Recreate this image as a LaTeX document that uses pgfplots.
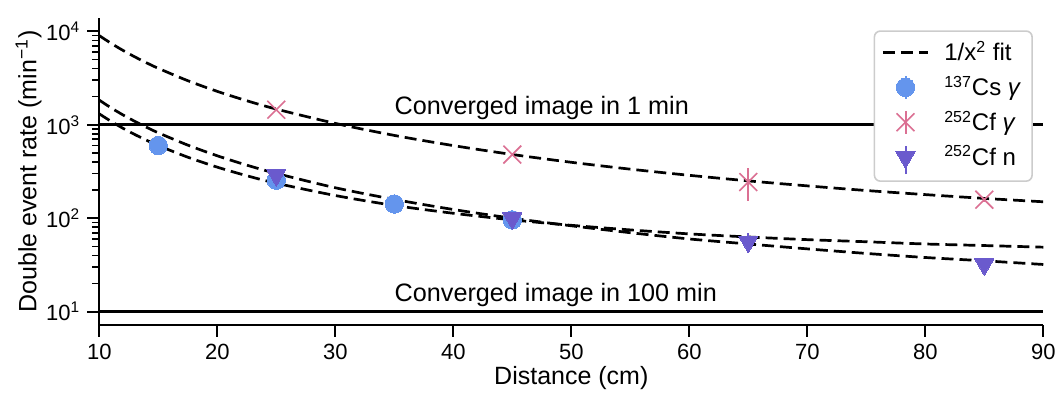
\documentclass[border=0pt]{standalone}
\usepackage{fontspec}
\setmainfont{Liberation Sans}
\usepackage{pgfplots}
\pgfplotsset{compat=1.18}
\definecolor{csblue}{RGB}{100,149,237}
\definecolor{cfpink}{RGB}{219,112,147}
\definecolor{cfpurple}{RGB}{106,90,205}
\pgfplotsset{
  fitlegend/.style={legend image code/.code={\draw[##1] (0cm,0cm) -- (0.8cm,0cm); \path[draw=none,fill=none] (0.8cm,0cm) -- ++(6pt,0pt);}},
  ebarlegend/.style 2 args={legend image code/.code={\path[draw=none,fill=none] (0cm,0cm) -- (0.8cm,0cm) -- ++(6pt,0pt); \draw[#1, line width=1pt] (0.4cm,#2) -- (0.4cm,5.8pt); \draw[##1] plot coordinates {(0.4cm,0cm)};}},
}
\begin{document}
\begin{tikzpicture}
\begin{axis}[
  scale only axis, width=472pt, height=153.5pt,
  xmin=10, xmax=90, ymode=log, ymin=7.2, ymax=13900,
  axis x line*=bottom, axis y line*=left,
  axis line style={line width=1.2pt},
  tick align=outside, major tick length=6pt, minor tick length=3.5pt,
  every major tick/.style={black, line width=1pt},
  every minor tick/.style={black, line width=0.8pt},
  xtick={10,20,...,90},
  ytick={10,100,1000,10000},
  yticklabels={10\textsuperscript{1},10\textsuperscript{2},10\textsuperscript{3},10\textsuperscript{4}},
  /pgf/number format/assume math mode=true,
  tick label style={font=\fontsize{11}{13}\selectfont},
  label style={font=\fontsize{12.5}{15}\selectfont},
  xlabel={Distance (cm)},
  ylabel={Double event rate (min\textsuperscript{−1})},
  xlabel style={yshift=3.5pt},
  ylabel style={yshift=-4.5pt},
  legend style={at={(0.989,0.96)}, anchor=north east, draw=black!20, line width=0.8pt,
    rounded corners=3pt, fill=white, font=\fontsize{12}{14}\selectfont,
    row sep=2pt, inner xsep=3.5pt, inner ysep=3pt},
  legend cell align=left,
]
% horizontal reference lines
\addplot[black, line width=1.5pt, forget plot] coordinates {(10,1000) (90,1000)};
\addplot[black, line width=1.5pt, forget plot] coordinates {(10,10) (90,10)};
\node[anchor=south west, font=\fontsize{12.6}{15}\selectfont, inner sep=0pt] at (axis cs:35,1120) {Converged image in 1 min};
\node[anchor=south west, font=\fontsize{12.6}{15}\selectfont, inner sep=0pt] at (axis cs:35,11.2) {Converged image in 100 min};
% fits
\addplot[black, line width=1.35pt, dash pattern=on 6pt off 3pt, smooth, fitlegend] coordinates {
(10,8999) (11,7444) (12,6261) (13,5341) (14,4610) (15,4021) (17.5,2965) (20,2279) (22.5,1809) (25,1473) (30,1035) (35,770) (40,599) (45,481) (50,397) (55,335) (60,288) (65,251) (70,222) (75,198) (80,179) (85,163) (90,150)};
\addlegendentry{1/x\textsuperscript{2} fit}
\addplot[black, line width=1.35pt, dash pattern=on 6pt off 3pt, smooth, forget plot] coordinates {
(10,1309) (11,1088) (12,919) (13,788) (14,684) (15,600) (17.5,450) (20,352) (22.5,285) (25,237) (30,175) (35,137) (40,113) (45,96) (50,84) (55,75) (60,68) (65,63) (70,59) (75,56) (80,53) (85,51) (90,49)};
\addplot[black, line width=1.35pt, dash pattern=on 6pt off 3pt, smooth, forget plot] coordinates {
(10,1835) (11,1518) (12,1277) (13,1090) (14,941) (15,821) (17.5,606) (20,466) (22.5,370) (25,302) (30,212) (35,159) (40,124) (45,100) (50,83) (55,70) (60,60) (65,53) (70,47) (75,42) (80,38) (85,35) (90,32)};
% data
\addplot[csblue, only marks, mark=*, mark size=4.6pt, mark options={draw=csblue, fill=csblue, line width=0pt},
  ebarlegend={csblue}{-5.8pt},
  error bars/.cd, y dir=both, y explicit, error bar style={csblue, line width=1pt}, error mark=none]
  coordinates {(15,600) +- (0,30) (25,255) +- (0,15) (35,142) +- (0,8) (45,96) +- (0,6)};
\addlegendentry{\textsuperscript{137}Cs \textit{γ}}
\addplot[cfpink, only marks, mark=x, mark size=6.3pt, mark options={draw=cfpink, line width=0.8pt},
  ebarlegend={cfpink}{-5.8pt},
  error bars/.cd, y dir=both, y explicit, error bar style={cfpink, line width=1pt}, error mark=none]
  coordinates {(25,1450) +- (0,40) (45,480) +- (0,20) (65,244) += (0,101) -= (0,91) (85,158) +- (0,8)};
\addlegendentry{\textsuperscript{252}Cf \textit{γ}}
\addplot[cfpurple, only marks, mark=triangle*, mark size=5.5pt, mark options={rotate=180, draw=cfpurple, fill=cfpurple, line width=0pt},
  ebarlegend={cfpurple}{-8.5pt},
  error bars/.cd, y dir=both, y explicit, error bar style={cfpurple, line width=1pt}, error mark=none]
  coordinates {(25,290) +- (0,15) (45,100) +- (0,6) (65,56) +- (0,13) (85,32) +- (0,3)};
\addlegendentry{\textsuperscript{252}Cf n}
\end{axis}
\pgfresetboundingbox
\path[use as bounding box] (current axis.south west) ++(-49.65pt,-33.5pt) rectangle ++(528.5pt,196pt);
\end{tikzpicture}
\end{document}
